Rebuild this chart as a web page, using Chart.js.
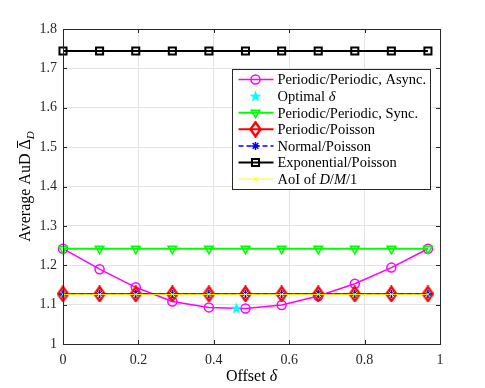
<!DOCTYPE html>
<html>
<head>
<meta charset="utf-8">
<script src="https://cdn.jsdelivr.net/npm/chart.js@4/dist/chart.umd.min.js"></script>
<style>
  html, body { margin: 0; padding: 0; background: #fff; }
  #wrap { width: 485px; height: 388px; }
</style>
</head>
<body>
<div id="wrap"><canvas id="myChart"></canvas></div>
<script>
// offsets delta on the x axis
var offsets = [0, 0.097, 0.193, 0.29, 0.387, 0.484, 0.58, 0.677, 0.774, 0.871, 0.968];

var asyncAuD = [1.242, 1.190, 1.144, 1.108, 1.093, 1.090, 1.099, 1.122, 1.153, 1.194, 1.242];
var syncAuD = [1.242, 1.242, 1.242, 1.242, 1.242, 1.242, 1.242, 1.242, 1.242, 1.242, 1.242];
var periodicPoisson = [1.127, 1.127, 1.127, 1.127, 1.127, 1.127, 1.127, 1.127, 1.127, 1.127, 1.127];
var normalPoisson = [1.127, 1.127, 1.127, 1.127, 1.127, 1.127, 1.127, 1.127, 1.127, 1.127, 1.127];
var expPoisson = [1.744, 1.744, 1.744, 1.744, 1.744, 1.744, 1.744, 1.744, 1.744, 1.744, 1.744];
var aoiDM1 = [1.126, 1.126, 1.126, 1.126, 1.126, 1.126, 1.126, 1.126, 1.126, 1.126, 1.126];

var optimalDelta = [0.46];
var optimalAuD = [1.091];

var seriesNames = ["Periodic/Periodic, Async.", "Optimal δ", "Periodic/Periodic, Sync.",
                   "Periodic/Poisson", "Normal/Poisson", "Exponential/Poisson", "AoI of D/M/1"];
// legend text pieces, true = italic (math)
var legendParts = [
    [["Periodic/Periodic, Async.", false]],
    [["Optimal ", false], ["δ", true]],
    [["Periodic/Periodic, Sync.", false]],
    [["Periodic/Poisson", false]],
    [["Normal/Poisson", false]],
    [["Exponential/Poisson", false]],
    [["AoI of ", false], ["D", true], ["/", false], ["M", true], ["/1", false]]
];

function pts(xs, ys) {
    return xs.map(function (x, i) { return { x: x, y: ys[i] }; });
}

// filled five point star for the optimal point
var starImg = document.createElement("canvas");
starImg.width = 13; starImg.height = 13;
(function () {
    var c = starImg.getContext("2d");
    c.fillStyle = "#00ffff";
    c.beginPath();
    for (var k = 0; k < 10; k++) {
        var r = k % 2 === 0 ? 6.3 : 2.6;
        var a = -Math.PI / 2 + k * Math.PI / 5;
        var px = 6.5 + r * Math.cos(a), py = 7 + r * Math.sin(a);
        if (k === 0) c.moveTo(px, py); else c.lineTo(px, py);
    }
    c.closePath();
    c.fill();
})();

// tall open diamond (matlab 'd')
var diamondImg = document.createElement("canvas");
diamondImg.width = 13; diamondImg.height = 17;
(function () {
    var c = diamondImg.getContext("2d");
    c.strokeStyle = "#ff0000";
    c.lineWidth = 2.5;
    c.beginPath();
    c.moveTo(6.5, 1.5); c.lineTo(11.5, 8.5); c.lineTo(6.5, 15.5); c.lineTo(1.5, 8.5);
    c.closePath();
    c.stroke();
})();

var serif = "'Liberation Serif', 'DejaVu Serif', serif";
var axisColor = "#262626";

function drawParts(ctx, parts, x, y, size) {
    parts.forEach(function (p) {
        ctx.font = (p[1] ? "italic " : "") + size + "px " + serif;
        ctx.fillText(p[0], x, y);
        x += ctx.measureText(p[0]).width;
    });
}

var framePlugin = {
    id: "frame",
    afterDatasetsDraw: function (chart) {
        var ctx = chart.ctx, a = chart.chartArea;
        var xs = chart.scales.x, ys = chart.scales.y;
        ctx.save();
        ctx.strokeStyle = axisColor;
        ctx.lineWidth = 1;
        ctx.setLineDash([]);
        ctx.beginPath();
        xs.ticks.forEach(function (t) {
            var px = Math.round(xs.getPixelForValue(t.value)) + 0.5;
            ctx.moveTo(px, a.bottom); ctx.lineTo(px, a.bottom - 4);
            ctx.moveTo(px, a.top); ctx.lineTo(px, a.top + 4);
        });
        ys.ticks.forEach(function (t) {
            var py = Math.round(ys.getPixelForValue(t.value)) + 0.5;
            ctx.moveTo(a.left, py); ctx.lineTo(a.left + 4, py);
            ctx.moveTo(a.right, py); ctx.lineTo(a.right - 4, py);
        });
        ctx.stroke();
        ctx.strokeRect(Math.round(a.left) + 0.5, Math.round(a.top) + 0.5,
                       Math.round(a.right - a.left), Math.round(a.bottom - a.top));

        // legend box
        var lx = Math.round(a.right - 208) + 0.5, ly = Math.round(a.top + 40) + 0.5;
        var lw = 198, lh = 120;
        ctx.fillStyle = "#ffffff";
        ctx.fillRect(lx, ly, lw, lh);
        ctx.strokeStyle = axisColor;
        ctx.strokeRect(lx, ly, lw, lh);
        ctx.textBaseline = "middle";
        ctx.textAlign = "left";
        chart.data.datasets.forEach(function (ds, i) {
            var cy = ly + 10 + i * 16.6;
            if (ds.showLine !== false) {
                ctx.strokeStyle = ds.borderColor;
                ctx.lineWidth = ds.borderWidth;
                ctx.setLineDash(ds.borderDash || []);
                ctx.beginPath();
                ctx.moveTo(lx + 6, cy); ctx.lineTo(lx + 41, cy);
                ctx.stroke();
            }
            ctx.setLineDash([]);
            ctx.strokeStyle = ds.pointBorderColor || ds.borderColor;
            ctx.fillStyle = ds.pointBackgroundColor || "rgba(0,0,0,0)";
            ctx.lineWidth = ds.pointBorderWidth;
            if (Chart.helpers && Chart.helpers.drawPoint) {
                Chart.helpers.drawPoint(ctx, {
                    pointStyle: ds.pointStyle, rotation: ds.pointRotation || 0,
                    radius: ds.pointRadius, borderWidth: ds.pointBorderWidth
                }, lx + 23, cy);
            }
            ctx.fillStyle = "#000";
            drawParts(ctx, legendParts[i], lx + 45, cy + 1, 14.5);
        });

        // axis titles
        ctx.fillStyle = "#000";
        ctx.textBaseline = "middle";
        var xt = "Offset ";
        ctx.font = "16px " + serif;
        var w1 = ctx.measureText(xt).width;
        ctx.font = "italic 16px " + serif;
        var w2 = ctx.measureText("δ").width;
        drawParts(ctx, [[xt, false], ["δ", true]], (a.left + a.right) / 2 - (w1 + w2) / 2, 377, 16);

        ctx.translate(26, (a.top + a.bottom) / 2);
        ctx.rotate(-Math.PI / 2);
        ctx.font = "16px " + serif;
        var yt = "Average AuD ";
        var wa = ctx.measureText(yt).width;
        var wDel = ctx.measureText("Δ").width;
        ctx.font = "italic 11px " + serif;
        var wd = ctx.measureText("D").width;
        var sx = -(wa + wDel + wd) / 2;
        ctx.font = "16px " + serif;
        ctx.fillText(yt + "Δ", sx, 0);
        // bar over the delta
        ctx.strokeStyle = "#000";
        ctx.lineWidth = 1;
        ctx.beginPath();
        ctx.moveTo(sx + wa + 1.5, -8.5);
        ctx.lineTo(sx + wa + wDel - 1.5, -8.5);
        ctx.stroke();
        ctx.font = "italic 11px " + serif;
        ctx.fillText("D", sx + wa + wDel, 5);
        ctx.restore();
    }
};

var ctx = document.getElementById("myChart");

var myChart = new Chart(ctx, {
    type: 'line',
    data: {
        datasets: [{
            label: seriesNames[0],
            data: pts(offsets, asyncAuD),
            borderColor: '#ff00ff',
            borderWidth: 1.5,
            pointStyle: 'circle',
            pointRadius: 4.5,
            pointBorderWidth: 1.5,
            pointBackgroundColor: 'rgba(0,0,0,0)',
            order: 7
        }, {
            label: seriesNames[1],
            data: pts(optimalDelta, optimalAuD),
            borderColor: '#00ffff',
            borderWidth: 0,
            showLine: false,
            pointStyle: starImg,
            pointRadius: 6,
            pointBorderWidth: 0,
            order: 6
        }, {
            label: seriesNames[2],
            data: pts(offsets, syncAuD),
            borderColor: '#00ff00',
            borderWidth: 2,
            pointStyle: 'triangle',
            pointRotation: 180,
            pointRadius: 5,
            pointBorderWidth: 1.5,
            pointBackgroundColor: 'rgba(0,0,0,0)',
            order: 5
        }, {
            label: seriesNames[3],
            data: pts(offsets, periodicPoisson),
            borderColor: '#ff0000',
            borderWidth: 2,
            pointStyle: diamondImg,
            pointRadius: 7,
            pointBorderWidth: 2.5,
            order: 4
        }, {
            label: seriesNames[4],
            data: pts(offsets, normalPoisson),
            borderColor: '#0000ff',
            borderWidth: 1.5,
            borderDash: [5, 3],
            pointStyle: 'star',
            pointRadius: 4,
            pointBorderWidth: 1.5,
            order: 3
        }, {
            label: seriesNames[5],
            data: pts(offsets, expPoisson),
            borderColor: '#000000',
            borderWidth: 2,
            pointStyle: 'rect',
            pointRadius: 5,
            pointBorderWidth: 2,
            pointBackgroundColor: 'rgba(0,0,0,0)',
            order: 2
        }, {
            label: seriesNames[6],
            data: pts(offsets, aoiDM1),
            borderColor: '#ffff00',
            borderWidth: 1,
            pointStyle: 'crossRot',
            pointRadius: 4,
            pointBorderWidth: 1,
            order: 1
        }]
    },
    options: {
        responsive: true,
        maintainAspectRatio: false,
        animation: false,
        clip: false,
        layout: { padding: { left: 0, top: 29, right: 45, bottom: 0 } },
        plugins: {
            legend: { display: false },
            tooltip: { enabled: false }
        },
        elements: { line: { tension: 0 } },
        scales: {
            x: {
                type: 'linear',
                min: 0, max: 1,
                afterFit: function (s) { s.height = 44; },
                ticks: {
                    stepSize: 0.2,
                    padding: 8,
                    color: axisColor,
                    font: { family: serif, size: 14 },
                    maxRotation: 0,
                    callback: function (v) { return String(+v.toFixed(1)); }
                },
                grid: { color: '#e3e3e3', drawTicks: false },
                border: { display: false }
            },
            y: {
                type: 'linear',
                min: 1, max: 1.8,
                afterFit: function (s) { s.width = 63; },
                ticks: {
                    stepSize: 0.1,
                    padding: 6,
                    color: axisColor,
                    font: { family: serif, size: 14 },
                    callback: function (v) { return String(+v.toFixed(1)); }
                },
                grid: { color: '#e3e3e3', drawTicks: false },
                border: { display: false }
            }
        }
    },
    plugins: [framePlugin]
});
</script>
</body>
</html>
